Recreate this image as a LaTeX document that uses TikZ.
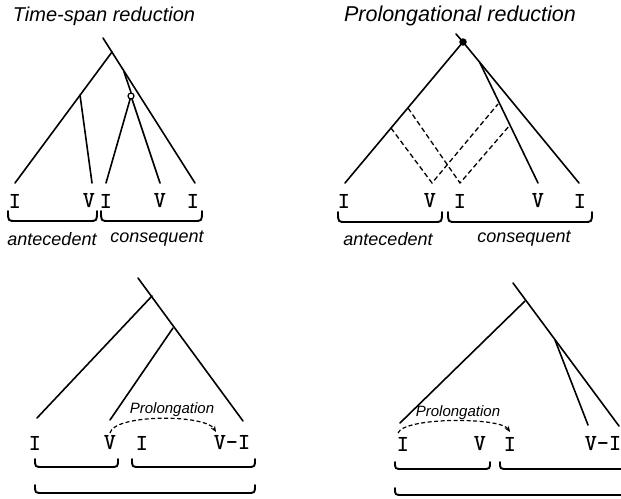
\documentclass[tikz,border=0pt]{standalone}
\usepackage{fontspec}
\newfontfamily\hand{Liberation Sans}
\usetikzlibrary{arrows.meta}
\tikzset{
  x=1pt, y=-1pt,
  branch/.style={line width=1.6pt, line cap=round},
  dashbranch/.style={line width=1.3pt, dash pattern=on 5pt off 3pt},
  brack/.style={line width=1.9pt, line cap=round},
  num/.style={font=\fontsize{23}{23}\selectfont\ttfamily\bfseries, inner sep=0pt},
  titleA/.style={font=\fontsize{20}{20}\selectfont\hand\itshape, inner sep=0pt},
  titleB/.style={font=\fontsize{21.5}{21.5}\selectfont\hand\itshape, inner sep=0pt},
  part/.style={font=\fontsize{18}{18}\selectfont\hand\itshape, inner sep=0pt},
  plab/.style={font=\fontsize{15}{15}\selectfont\hand\itshape, inner sep=0pt},
  prolarrow/.style={line width=1.2pt, dash pattern=on 4pt off 2.5pt, -{Stealth[length=6pt,width=5pt]}},
}
\newcommand{\bracket}[4]{% x1, x2, ytop, ybot
  \draw[brack] (#1,#3) .. controls (#1,#4) .. (#1+8,#4) -- (#2-8,#4) .. controls (#2,#4) .. (#2,#3);}
\begin{document}
\begin{tikzpicture}
\useasboundingbox (0,0) rectangle (621,498);
\clip (0,0) rectangle (621,498);

% ---------------- Time-span reduction ----------------
\node[titleA] (t1) at (104,16) {Time-span reduction};
\coordinate (a0) at (103,38);
\coordinate (a1) at (112,52);
\coordinate (aL) at (80,95);
\coordinate (aR) at (124,72);
\node[draw, circle, minimum size=6pt, inner sep=0pt, line width=1.2pt] (ac) at (131,96) {};
\coordinate (ae1) at (15,183);
\coordinate (ae2) at (92,183);
\coordinate (ae3) at (106,183);
\coordinate (ae4) at (160,183);
\coordinate (ae5) at (195,183);
\draw[branch] (a0) -- (ae5);
\draw[branch] (a1) -- (ae1);
\draw[branch] (aL) -- (ae2);
\draw[branch] (aR) -- (ac.north);
\draw[branch] (ac) -- (ae3);
\draw[branch] (ac) -- (ae4);
\node[num] (an1) at (15,201) {I};
\node[num] (an2) at (89,201) {V};
\node[num] (an3) at (106,201) {I};
\node[num] (an4) at (160,201) {V};
\node[num] (an5) at (193,201) {I};
\bracket{8}{97}{211}{221}
\bracket{101}{202}{211}{221}
\node[part] (ant1) at (52,239) {antecedent};
\node[part] (con1) at (157,239) {consequent};

% ---------------- Prolongational reduction ----------------
\node[titleB] (t2) at (460,16) {Prolongational reduction};
\coordinate (b0) at (456,34);
\node[circle, fill, minimum size=7.5pt, inner sep=0pt] (bd) at (463,42) {};
\coordinate (bR) at (480,63);
\coordinate (be1) at (345,183);
\coordinate (be2) at (432,183);
\coordinate (be3) at (460,183);
\coordinate (be4) at (538,183);
\coordinate (be5) at (579,183);
\coordinate (bl1) at (391,128);
\coordinate (bl2) at (408,108);
\coordinate (br1) at (498,104);
\coordinate (br2) at (510,125);
\draw[branch] (b0) -- (bd.center) -- (be5);
\draw[branch] (bd.center) -- (be1);
\draw[branch] (bR) -- (be4);
\draw[dashbranch] (bl1) -- (be2) -- (br1);
\draw[dashbranch] (bl2) -- (be3) -- (br2);
\node[num] (bn1) at (344,201) {I};
\node[num] (bn2) at (430,201) {V};
\node[num] (bn3) at (460,201) {I};
\node[num] (bn4) at (538,201) {V};
\node[num] (bn5) at (580,201) {I};
\bracket{338}{442}{212}{222}
\bracket{448}{592}{212}{222}
\node[part] (ant2) at (388,239) {antecedent};
\node[part] (con2) at (524,239) {consequent};

% ---------------- bottom left ----------------
\coordinate (c0) at (138,278);
\coordinate (c1) at (152,296);
\coordinate (c2) at (173,328);
\coordinate (ce1) at (37,418);
\coordinate (ce2) at (110,420);
\coordinate (ce3) at (243,421);
\draw[branch] (c0) -- (ce3);
\draw[branch] (c1) -- (ce1);
\draw[branch] (c2) -- (ce2);
\node[num] (cn1) at (35,443) {I};
\node[num] (cn2) at (110,443) {V};
\node[num] (cn3) at (142,443) {I};
\node[num] (cn4) at (232,443) {V-I};
\node[plab] (cp) at (172,410) {Prolongation};
\draw[prolarrow] (110,433) .. controls (114,414) and (205,414) .. (216,432);
\bracket{35}{118}{459}{467}
\bracket{132}{255}{459}{467}
\bracket{35}{255}{485}{493}

% ---------------- bottom right ----------------
\coordinate (d0) at (513,283);
\coordinate (d1) at (525,301);
\coordinate (d2) at (555,340);
\coordinate (de1) at (400,423);
\coordinate (de2) at (588,425);
\coordinate (de3) at (619,426);
\draw[branch] (d0) -- (de3);
\draw[branch] (d1) -- (de1);
\draw[branch] (d2) -- (de2);
\node[num] (dn1) at (403,444) {I};
\node[num] (dn2) at (480,444) {V};
\node[num] (dn3) at (510,444) {I};
\node[num] (dn4) at (603,444) {V-I};
\node[plab] (dp) at (458,413) {Prolongation};
\draw[prolarrow] (398,433) .. controls (404,417) and (500,417) .. (510,432);
\bracket{395}{490}{462}{469}
\bracket{500}{630}{462}{469}
\bracket{395}{630}{488}{495}
\end{tikzpicture}
\end{document}
